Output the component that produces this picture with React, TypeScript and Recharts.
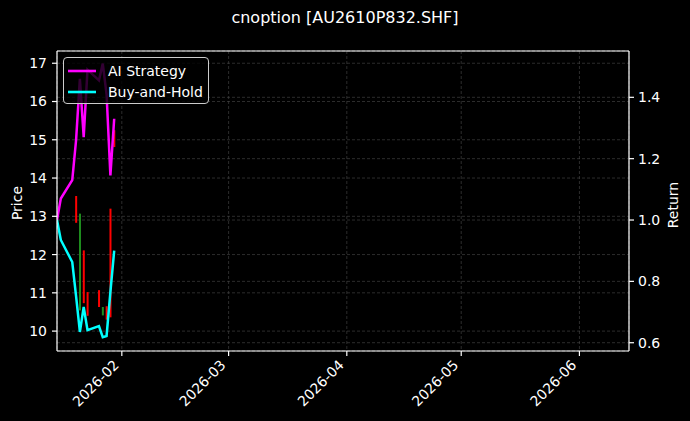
import React from 'react';
import {
  ComposedChart,
  Line,
  Bar,
  Cell,
  XAxis,
  YAxis,
  CartesianGrid,
  Legend,
  ReferenceLine,
} from 'recharts';

// trading days shown in the chart
const DATES = [
  '2026-01-15', '2026-01-16', '2026-01-19', '2026-01-20', '2026-01-21', '2026-01-22',
  '2026-01-23', '2026-01-26', '2026-01-27', '2026-01-28', '2026-01-29', '2026-01-30',
];

// cumulative return of each strategy
const AI_STRATEGY = [1.0, 1.07, 1.13, 1.26, 1.46, 1.27, 1.49, 1.455, 1.51, 1.41, 1.145, 1.33];
const BUY_AND_HOLD = [1.0, 0.935, 0.863, 0.752, 0.635, 0.717, 0.641, 0.654, 0.618, 0.622, 0.765, 0.9];

// daily price range (null = no bar drawn), 1 = up day, -1 = down day
const PRICE_LOW = [null, null, null, 12.83, 10.54, 10.73, 10.4, 10.63, 10.41, 10.3, 10.36, 14.81];
const PRICE_HIGH = [null, null, null, 13.53, 13.07, 12.11, 11.02, 11.07, 10.63, 10.65, 13.2, 15.25];
const DIRECTION = [0, 0, 0, -1, 1, -1, -1, -1, 1, -1, -1, -1];

const MONTH_TICKS = ['2026-02-01', '2026-03-01', '2026-04-01', '2026-05-01', '2026-06-01'];
const PRICE_TICKS = [10, 11, 12, 13, 14, 15, 16, 17];
const RETURN_TICKS = [0.6, 0.8, 1.0, 1.2, 1.4];

const X_START = '2026-01-15';
const X_END = '2026-06-14';
const PRICE_DOMAIN: [number, number] = [9.48, 17.32];
const RETURN_DOMAIN: [number, number] = [0.573, 1.551];

const FONT = '"DejaVu Sans", sans-serif';
const toTs = (s: string) => Date.parse(s + 'T00:00:00Z');

function DateTick(props: any) {
  const { x, y, payload } = props;
  const d = new Date(payload.value);
  const label = `${d.getUTCFullYear()}-${String(d.getUTCMonth() + 1).padStart(2, '0')}`;
  const ax = x - 2;
  const ay = y + 8;
  return (
    <text
      x={ax}
      y={ay}
      transform={`rotate(-45 ${ax} ${ay})`}
      textAnchor="end"
      fill="#ffffff"
      fontSize={14}
      fontFamily={FONT}
    >
      {label}
    </text>
  );
}

function SideTitle({ cx, cy, text }: { cx: number; cy: number; text: string }) {
  return (
    <text
      x={cx}
      y={cy}
      transform={`rotate(-90 ${cx} ${cy})`}
      textAnchor="middle"
      dominantBaseline="central"
      fill="#ffffff"
      fontSize={14}
      fontFamily={FONT}
    >
      {text}
    </text>
  );
}

function LegendBox() {
  const items = [
    { name: 'AI Strategy', color: '#ff00ff' },
    { name: 'Buy-and-Hold', color: '#00ffff' },
  ];
  return (
    <div
      style={{
        width: 146,
        height: 47,
        boxSizing: 'border-box',
        border: '1px solid #cccccc',
        borderRadius: 4,
        background: 'rgba(0,0,0,0.8)',
        padding: '2px 0 0 4px',
        fontFamily: FONT,
        fontSize: 14,
        color: '#ffffff',
      }}
    >
      {items.map((it) => (
        <div key={it.name} style={{ display: 'flex', alignItems: 'center', height: 21 }}>
          <svg width={28} height={4} style={{ display: 'block' }}>
            <line x1={0} y1={2} x2={28} y2={2} stroke={it.color} strokeWidth={2.6} />
          </svg>
          <span style={{ marginLeft: 12, whiteSpace: 'nowrap' }}>{it.name}</span>
        </div>
      ))}
    </div>
  );
}

export default function App() {
  const data = DATES.map((d, i) => ({
    t: toTs(d),
    ai: AI_STRATEGY[i],
    bh: BUY_AND_HOLD[i],
    candle: PRICE_LOW[i] == null ? null : [PRICE_LOW[i], PRICE_HIGH[i]],
  }));

  const spine = { stroke: '#ffffff', strokeWidth: 1.2 };

  return (
    <div
      style={{
        position: 'absolute',
        left: 0,
        top: 0,
        width: 690,
        height: 421,
        background: '#000000',
        fontFamily: FONT,
      }}
    >
      <div
        style={{
          position: 'absolute',
          top: 8,
          left: 0,
          width: 690,
          textAlign: 'center',
          color: '#ffffff',
          fontSize: 16,
          lineHeight: '20px',
        }}
      >
        cnoption [AU2610P832.SHF]
      </div>
      <ComposedChart
        width={690}
        height={421}
        data={data}
        margin={{ top: 51, right: 0, bottom: 0, left: 0 }}
        style={{ fontFamily: FONT }}
      >
        <CartesianGrid yAxisId="price" stroke="#4a4a4a" strokeDasharray="3 2" strokeWidth={0.6} />
        <CartesianGrid yAxisId="ret" vertical={false} stroke="#4a4a4a" strokeDasharray="3 2" strokeWidth={0.6} />
        <XAxis
          dataKey="t"
          type="number"
          domain={[toTs(X_START), toTs(X_END)]}
          allowDataOverflow
          ticks={MONTH_TICKS.map(toTs)}
          interval={0}
          tick={<DateTick />}
          height={70}
          tickSize={5}
          axisLine={spine}
          tickLine={spine}
        />
        <YAxis
          yAxisId="price"
          orientation="left"
          width={57}
          domain={PRICE_DOMAIN}
          allowDataOverflow
          ticks={PRICE_TICKS}
          interval={0}
          tickSize={5}
          tickMargin={5}
          tick={{ fill: '#ffffff', fontSize: 14 }}
          axisLine={spine}
          tickLine={spine}
          label={<SideTitle cx={17} cy={203} text="Price" />}
        />
        <YAxis
          yAxisId="ret"
          orientation="right"
          width={61}
          domain={RETURN_DOMAIN}
          allowDataOverflow
          ticks={RETURN_TICKS}
          interval={0}
          tickFormatter={(v: number) => v.toFixed(1)}
          tickSize={5}
          tickMargin={4}
          tick={{ fill: '#ffffff', fontSize: 14 }}
          axisLine={spine}
          tickLine={spine}
          label={<SideTitle cx={673} cy={205} text="Return" />}
        />
        <ReferenceLine yAxisId="price" y={PRICE_DOMAIN[1]} stroke="#ffffff" strokeWidth={1.2} />
        <Bar yAxisId="price" dataKey="candle" barSize={2} isAnimationActive={false} legendType="none">
          {data.map((_, i) => (
            <Cell key={i} fill={DIRECTION[i] > 0 ? '#1e8c1e' : '#ff0000'} />
          ))}
        </Bar>
        <Line
          yAxisId="ret"
          type="linear"
          dataKey="ai"
          name="AI Strategy"
          stroke="#ff00ff"
          strokeWidth={2.5}
          dot={false}
          isAnimationActive={false}
        />
        <Line
          yAxisId="ret"
          type="linear"
          dataKey="bh"
          name="Buy-and-Hold"
          stroke="#00ffff"
          strokeWidth={2.5}
          dot={false}
          isAnimationActive={false}
        />
        <Legend
          content={<LegendBox />}
          layout="vertical"
          align="center"
          verticalAlign="middle"
          wrapperStyle={{ left: 63, top: 57, width: 146 }}
        />
      </ComposedChart>
    </div>
  );
}
